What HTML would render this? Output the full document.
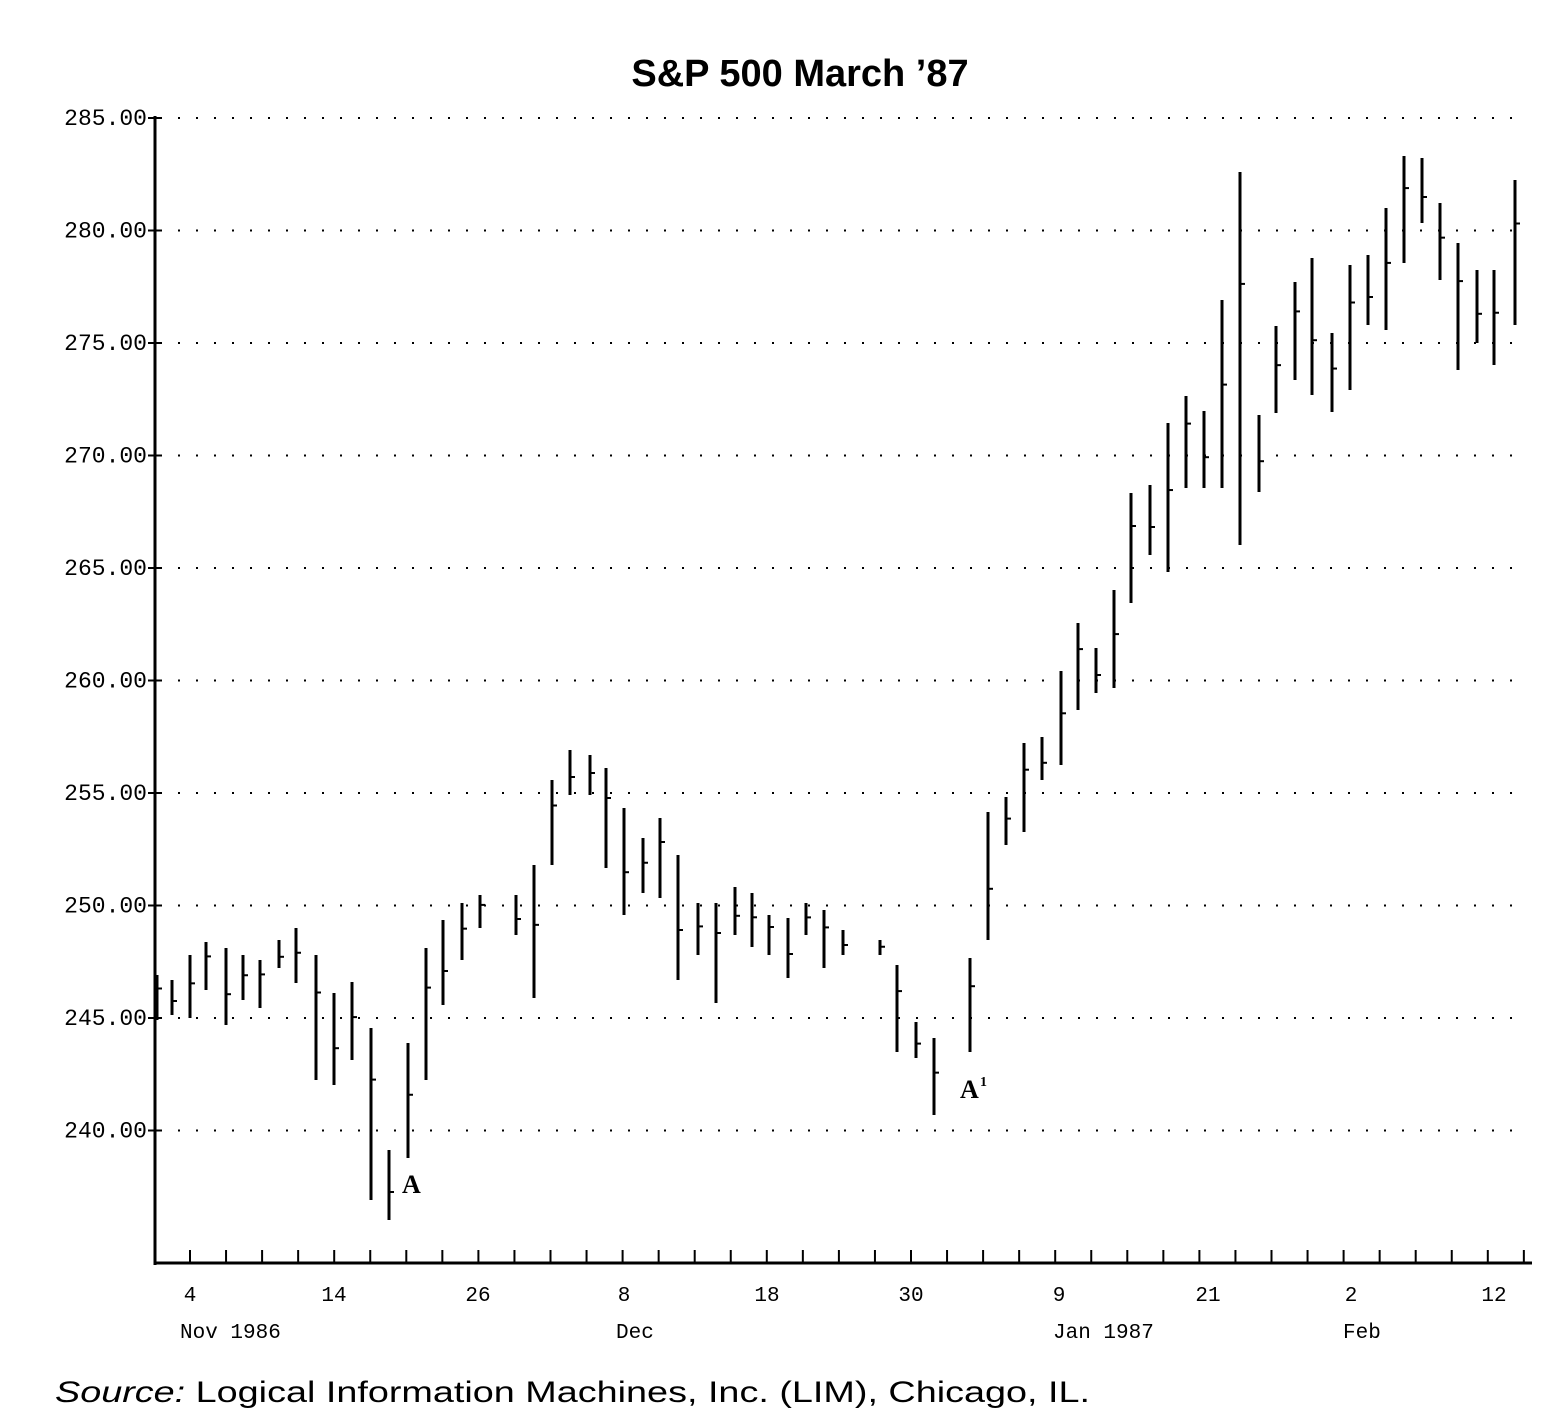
<!DOCTYPE html>
<html><head><meta charset="utf-8"><style>
body{margin:0;background:#fff;}
svg{display:block}
</style></head><body>
<svg id="s" width="1568" height="1424" xmlns="http://www.w3.org/2000/svg">
<rect width="1568" height="1424" fill="#fff"/>
<text x="800" y="86" text-anchor="middle" font-family="Liberation Sans, sans-serif" font-weight="bold" font-size="38">S&amp;P 500 March ’87</text>
<g id="g"></g>
<text x="402" y="1193" font-family="Liberation Serif, serif" font-weight="bold" font-size="26">A</text>
<text x="960" y="1098" font-family="Liberation Serif, serif" font-weight="bold" font-size="26">A</text>
<text x="980" y="1086" font-family="Liberation Serif, serif" font-weight="bold" font-size="14">1</text>
<text x="55" y="1402" font-family="Liberation Sans, sans-serif" font-size="30" textLength="1035" lengthAdjust="spacingAndGlyphs"><tspan font-style="italic">Source:</tspan> Logical Information Machines, Inc. (LIM), Chicago, IL.</text>
</svg>
<script>
var g=document.getElementById('g'),h='';
var labs=['285.00','280.00','275.00','270.00','265.00','260.00','255.00','250.00','245.00','240.00'];
for(var i=0;i<10;i++){var y=118+i*112.5;
h+='<line x1="160" y1="'+y+'" x2="1520" y2="'+y+'" stroke="#000" stroke-width="2" stroke-dasharray="2,16"/>';
h+='<line x1="148" y1="'+y+'" x2="160" y2="'+y+'" stroke="#000" stroke-width="2"/>';
h+='<text x="147" y="'+(y+7)+'" text-anchor="end" font-family="Liberation Mono, monospace" font-size="23">'+labs[i]+'</text>';}
h+='<line x1="155" y1="116" x2="155" y2="1265" stroke="#000" stroke-width="3"/>';
h+='<line x1="154" y1="1263" x2="1532" y2="1263" stroke="#000" stroke-width="3"/>';
for(var x=190;x<1530;x+=36.05){h+='<line x1="'+x+'" y1="1250" x2="'+x+'" y2="1263" stroke="#000" stroke-width="2"/>';}
var xl=[[190,'4'],[334,'14'],[478,'26'],[624,'8'],[767,'18'],[911,'30'],[1059,'9'],[1208,'21'],[1351,'2'],[1494,'12']];
xl.forEach(function(a){h+='<text x="'+a[0]+'" y="1301" text-anchor="middle" font-family="Liberation Mono, monospace" font-size="21">'+a[1]+'</text>';});
[[180,'Nov 1986'],[616,'Dec'],[1053,'Jan 1987'],[1343,'Feb']].forEach(function(a){h+='<text x="'+a[0]+'" y="1338" font-family="Liberation Mono, monospace" font-size="21">'+a[1]+'</text>';});
var b=[[157,975,1020],[172,980,1015],[190,955,1018],[206,942,990],[226,948,1025],[243,955,1000],[260,960,1008],[279,940,968],[296,928,983],[316,955,1080],[334,993,1085],[352,982,1060],[371,1028,1200],[389,1150,1220],[408,1043,1158],[426,948,1080],[443,920,1005],[462,903,960],[480,895,928],[516,895,935],[534,865,998],[552,780,865],[570,750,795],[590,755,795],[606,768,868],[624,808,915],[643,838,893],[660,818,898],[678,855,980],[698,903,955],[716,903,1003],[735,887,935],[752,893,947],[769,915,955],[788,918,978],[806,903,935],[824,910,968],[843,930,955],[880,940,955],[897,965,1052],[916,1022,1058],[934,1038,1115],[970,958,1052],[988,812,940],[1006,797,845],[1024,743,832],[1042,737,780],[1061,671,765],[1078,623,710],[1096,648,693],[1114,590,688],[1131,493,603],[1150,485,555],[1168,423,572],[1186,396,488],[1204,411,488],[1222,300,488],[1240,172,545],[1259,415,492],[1276,326,413],[1295,282,380],[1312,258,395],[1332,333,412],[1350,265,390],[1368,255,325],[1386,208,330],[1404,156,263],[1422,158,223],[1440,203,280],[1458,243,370],[1477,270,343],[1494,270,365],[1515,180,325]];
b.forEach(function(a,i){var x=a[0];h+='<line x1="'+x+'" y1="'+a[1]+'" x2="'+x+'" y2="'+a[2]+'" stroke="#000" stroke-width="3"/>';
var c=a[1]+(a[2]-a[1])*(i%3==0?0.3:(i%3==1?0.6:0.45));
h+='<line x1="'+x+'" y1="'+c+'" x2="'+(x+5)+'" y2="'+c+'" stroke="#000" stroke-width="2"/>';});
g.innerHTML=h;
</script>
</body></html>
